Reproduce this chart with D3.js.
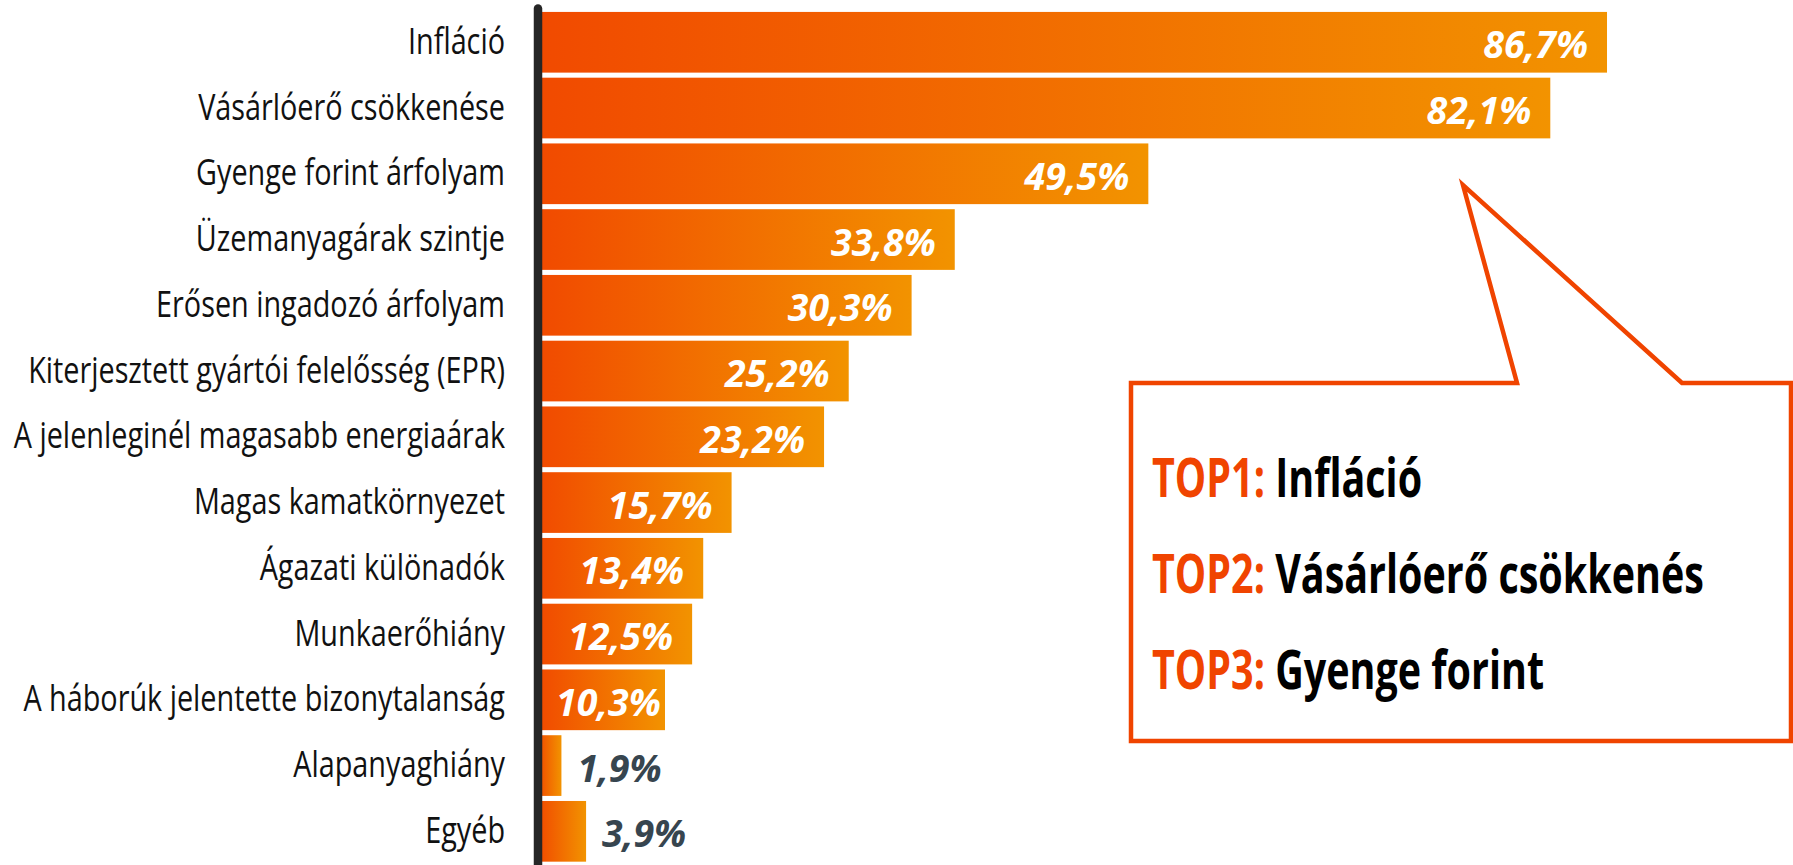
<!DOCTYPE html>
<html>
<head>
<meta charset="utf-8">
<script src="https://cdn.jsdelivr.net/npm/d3@7"></script>
<style>
  html, body { margin: 0; padding: 0; background: #ffffff; }
  svg { display: block; }
</style>
</head>
<body>
<svg id="chart" width="1793" height="865"></svg>
<script>
// ---- data ----
const categories = [
  "Infláció",
  "Vásárlóerő csökkenése",
  "Gyenge forint árfolyam",
  "Üzemanyagárak szintje",
  "Erősen ingadozó árfolyam",
  "Kiterjesztett gyártói felelősség (EPR)",
  "A jelenleginél magasabb energiaárak",
  "Magas kamatkörnyezet",
  "Ágazati különadók",
  "Munkaerőhiány",
  "A háborúk jelentette bizonytalanság",
  "Alapanyaghiány",
  "Egyéb"
];
const values = [86.7, 82.1, 49.5, 33.8, 30.3, 25.2, 23.2, 15.7, 13.4, 12.5, 10.3, 1.9, 3.9];
const topRanks = ["TOP1:", "TOP2:", "TOP3:"];
const topNames = ["Infláció", "Vásárlóerő csökkenés", "Gyenge forint"];

// ---- layout ----
const W = 1793, H = 865;
const svg = d3.select("#chart");
const x = d3.scaleLinear().domain([0, 100]).range([538, 1771]);
const y = d3.scaleBand().domain(categories).range([9.4, 864.2])
  .paddingInner(0.077).paddingOuter(0.0385);
const fmt = v => d3.format(".1f")(v).replace(".", ",") + "%";

const defs = svg.append("defs");
const grad = defs.append("linearGradient").attr("id", "barGrad")
  .attr("x1", "0").attr("x2", "1").attr("y1", "0").attr("y2", "0");
grad.append("stop").attr("offset", "0%").attr("stop-color", "#f14a00");
grad.append("stop").attr("offset", "100%").attr("stop-color", "#f29300");

const data = categories.map((c, i) => ({ c, v: values[i] }));

// bars
svg.append("g").selectAll("rect").data(data).join("rect")
  .attr("x", x(0))
  .attr("y", d => y(d.c))
  .attr("width", d => x(d.v) - x(0))
  .attr("height", y.bandwidth())
  .attr("fill", "url(#barGrad)");

// axis line
svg.append("line")
  .attr("x1", x(0)).attr("x2", x(0))
  .attr("y1", 8.5).attr("y2", H + 10)
  .attr("stroke", "#262626").attr("stroke-width", 8.5)
  .attr("stroke-linecap", "round");

// category labels (condensed)
const catScale = 0.77;
svg.append("g").selectAll("text").data(data).join("text")
  .attr("transform", d => `translate(${x(0) - 33},${y(d.c) + y.bandwidth() / 2 + 11.5}) scale(${catScale},1)`)
  .attr("text-anchor", "end")
  .attr("font-family", "'Open Sans', 'Noto Sans', sans-serif")
  .attr("font-size", 37.4)
  .attr("fill", "#111111")
  .text(d => d.c);

// value labels
const vl = svg.append("g").selectAll("text").data(data).join("text")
  .attr("font-family", "'Open Sans', 'Noto Sans', sans-serif")
  .attr("font-size", 37.5)
  .attr("font-weight", 700)
  .attr("font-style", "italic")
  .attr("y", d => y(d.c) + y.bandwidth() / 2 + 16)
  .text(d => fmt(d.v));

vl.each(function (d) {
  const w = this.getComputedTextLength();
  const barW = x(d.v) - x(0);
  const sel = d3.select(this);
  if (barW > w + 20) {
    const right = Math.max(x(d.v) - 19, x(0) + 18 + w);
    sel.attr("x", right).attr("text-anchor", "end").attr("fill", "#ffffff");
  } else {
    sel.attr("x", x(d.v) + 16).attr("text-anchor", "start").attr("fill", "#37454f");
  }
});

// callout
const box = { l: 1131, t: 383, r: 1791, b: 741 };
const tail = { l: 1517, tipX: 1463, tipY: 185, r: 1682 };
const calloutPath = d3.path();
calloutPath.moveTo(box.l, box.t);
calloutPath.lineTo(tail.l, box.t);
calloutPath.lineTo(tail.tipX, tail.tipY);
calloutPath.lineTo(tail.r, box.t);
calloutPath.lineTo(box.r, box.t);
calloutPath.lineTo(box.r, box.b);
calloutPath.lineTo(box.l, box.b);
calloutPath.closePath();
svg.append("path")
  .attr("d", calloutPath.toString())
  .attr("fill", "#ffffff")
  .attr("stroke", "#f04400")
  .attr("stroke-width", 4.5)
  .attr("stroke-linejoin", "miter");

const topScale = 0.745;
const tg = svg.append("g");
topRanks.forEach((r, i) => {
  const t = tg.append("text")
    .attr("transform", `translate(1152,${497 + i * 96}) scale(${topScale},1)`)
    .attr("font-family", "'Open Sans', 'Noto Sans', sans-serif")
    .attr("font-size", 53)
    .attr("font-weight", 700);
  t.append("tspan").attr("fill", "#f04400").text(r);
  t.append("tspan").attr("fill", "#000000").text(" " + topNames[i]);
});
</script>
</body>
</html>
